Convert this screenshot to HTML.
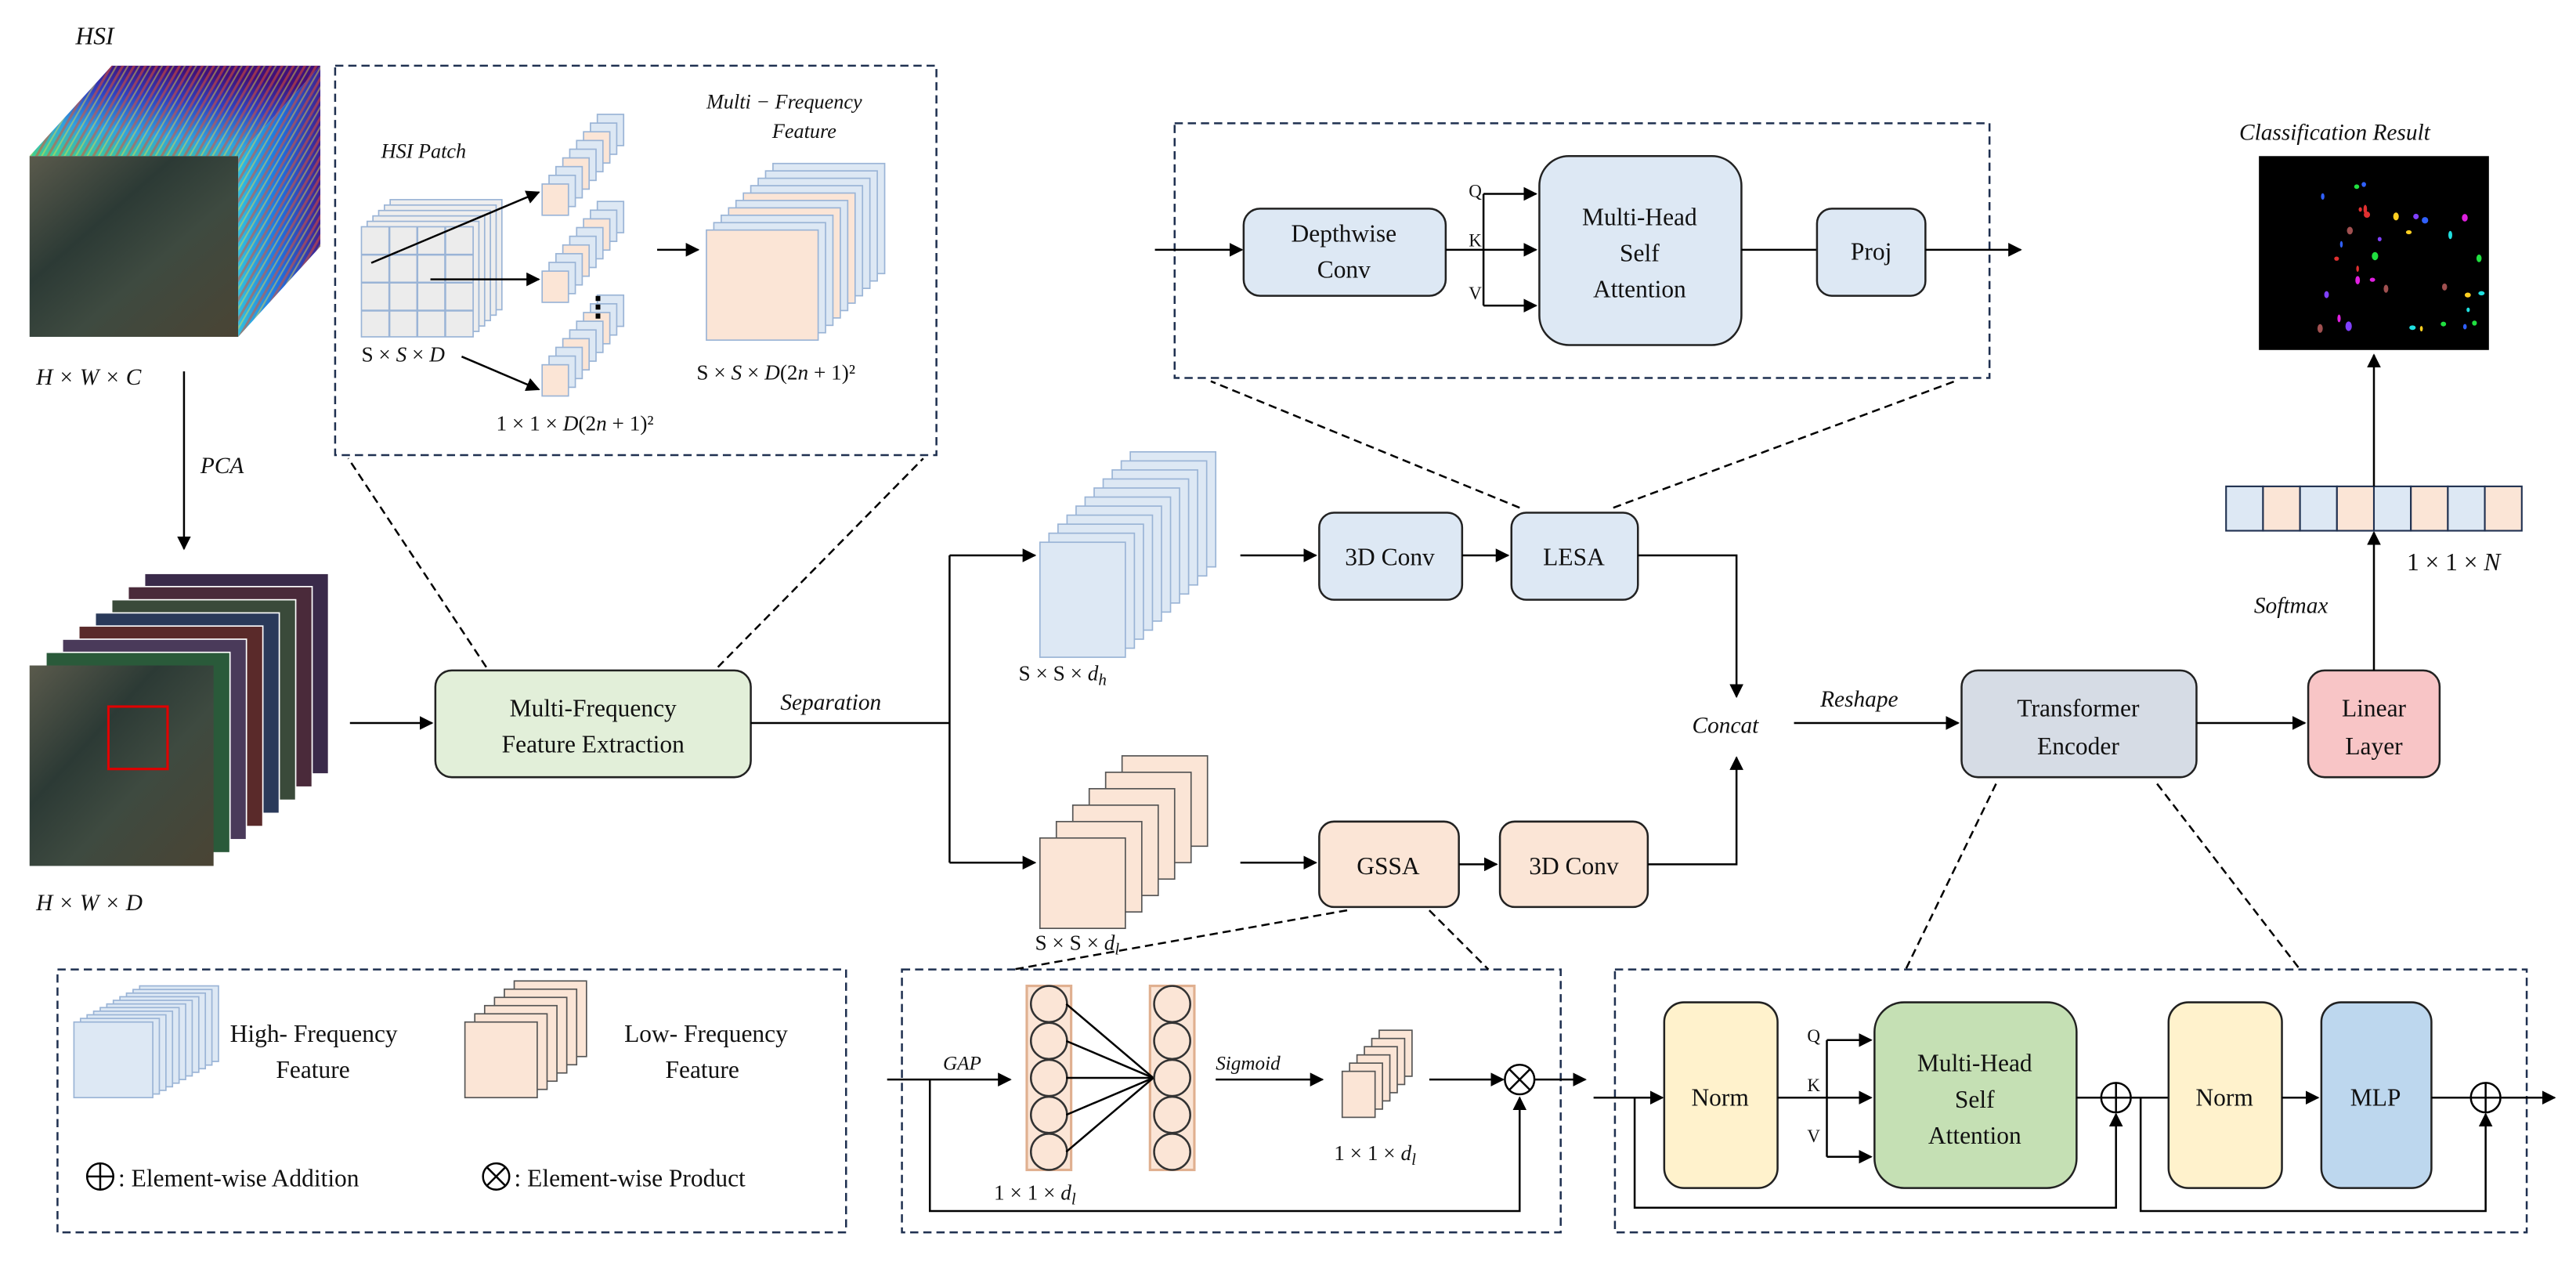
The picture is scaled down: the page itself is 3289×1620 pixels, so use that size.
<!DOCTYPE html>
<html><head><meta charset="utf-8"><style>
html,body{margin:0;padding:0;background:#fff;}
svg{display:block;}
svg text{font-family:"Liberation Serif","DejaVu Serif",serif !important;fill:#111;}
.it{font-style:italic;}
</style></head><body>
<svg id="s" width="3289" height="1620" viewBox="0 0 1568 772.3" preserveAspectRatio="none" xmlns="http://www.w3.org/2000/svg">
<defs>
<marker id="a" viewBox="0 0 10 10" refX="9" refY="5" markerWidth="7" markerHeight="7" orient="auto-start-reverse"><path d="M0,0L10,5L0,10z" fill="#000"/></marker>
<linearGradient id="sat" x1="0" y1="0" x2="1" y2="1"><stop offset="0" stop-color="#5a5a4c"/><stop offset=".35" stop-color="#2c3a35"/><stop offset=".6" stop-color="#3e4a40"/><stop offset="1" stop-color="#4a4434"/></linearGradient>
<linearGradient id="topg" x1="0" y1="1" x2="0.4" y2="0"><stop offset="0" stop-color="#40d090"/><stop offset=".35" stop-color="#30a0e0"/><stop offset=".7" stop-color="#3040c0"/><stop offset="1" stop-color="#40107a"/></linearGradient>
<linearGradient id="sideg" x1="0" y1="0" x2="1" y2="0"><stop offset="0" stop-color="#30c0e0"/><stop offset=".5" stop-color="#2070e0"/><stop offset="1" stop-color="#402090"/></linearGradient>
<pattern id="stripe" width="6" height="6" patternUnits="userSpaceOnUse" patternTransform="rotate(30)"><rect width="6" height="6" fill="url(#topg)" opacity="0"/><rect width="1.5" height="6" fill="#e05030" opacity=".55"/><rect x="3" width="1" height="6" fill="#f0e040" opacity=".45"/></pattern>
</defs>
<g id="g" stroke="#000" fill="none" stroke-width="1.2">

<!-- HSI cube -->
<polygon points="18,95 145,95 195,40 68,40" fill="url(#topg)" stroke="none"/>
<polygon points="18,95 145,95 195,40 68,40" fill="url(#stripe)" stroke="none"/>
<polygon points="145,95 195,40 195,150 145,205" fill="url(#sideg)" stroke="none"/>
<polygon points="145,95 195,40 195,150 145,205" fill="url(#stripe)" stroke="none"/>
<rect x="18" y="95" width="127" height="110" fill="url(#sat)" stroke="none"/>

<line x1="112" y1="226" x2="112" y2="334" marker-end="url(#a)"/>

<g id="bcube"></g>
<rect x="18" y="405" width="112" height="122" fill="url(#sat)" stroke="none"/>
<rect x="66" y="430" width="36" height="38" stroke="#e00000" stroke-width="1.5"/>

<line x1="213" y1="440" x2="263" y2="440" marker-end="url(#a)"/>
<rect x="265" y="408" width="192" height="65" rx="10" fill="#e2efd9" stroke="#222"/>

<rect x="204" y="40" width="366" height="237" stroke="#1f3050" stroke-dasharray="5,3"/>
<line x1="296" y1="406" x2="212" y2="279" stroke-dasharray="5,3"/>
<line x1="437" y1="406" x2="562" y2="279" stroke-dasharray="5,3"/>
<g id="patch"></g>

<polyline points="457,440 578,440"/>
<line x1="578" y1="338" x2="578" y2="525"/>
<line x1="578" y1="338" x2="630" y2="338" marker-end="url(#a)"/>
<line x1="578" y1="525" x2="630" y2="525" marker-end="url(#a)"/>
<g id="stk"></g>

<line x1="755" y1="338" x2="801" y2="338" marker-end="url(#a)"/>
<rect x="803" y="312" width="87" height="53" rx="9" fill="#dde8f4" stroke="#222"/>
<line x1="890" y1="338" x2="918" y2="338" marker-end="url(#a)"/>
<rect x="920" y="312" width="77" height="53" rx="9" fill="#dde8f4" stroke="#222"/>
<polyline points="997,338 1057,338 1057,424" marker-end="url(#a)"/>

<line x1="755" y1="525" x2="801" y2="525" marker-end="url(#a)"/>
<rect x="803" y="500" width="85" height="52" rx="9" fill="#fbe5d6" stroke="#222"/>
<line x1="888" y1="526" x2="911" y2="526" marker-end="url(#a)"/>
<rect x="913" y="500" width="90" height="52" rx="9" fill="#fbe5d6" stroke="#222"/>
<polyline points="1003,526 1057,526 1057,461" marker-end="url(#a)"/>

<line x1="1092" y1="440" x2="1192" y2="440" marker-end="url(#a)"/>
<rect x="1194" y="408" width="143" height="65" rx="10" fill="#d6dce5" stroke="#222"/>
<line x1="1337" y1="440" x2="1403" y2="440" marker-end="url(#a)"/>
<rect x="1405" y="408" width="80" height="65" rx="10" fill="#f8c5c6" stroke="#222"/>
<line x1="1445" y1="408" x2="1445" y2="324" marker-end="url(#a)"/>
<g id="vec"></g>
<line x1="1445" y1="296" x2="1445" y2="216" marker-end="url(#a)"/>
<rect x="1375" y="95" width="140" height="118" fill="#000" stroke="none"/>
<g id="dots" stroke="none"></g>

<rect x="715" y="75" width="496" height="155" stroke="#1f3050" stroke-dasharray="5,3"/>
<line x1="925" y1="309" x2="737" y2="232" stroke-dasharray="5,3"/>
<line x1="982" y1="309" x2="1190" y2="232" stroke-dasharray="5,3"/>
<line x1="703" y1="152" x2="756" y2="152" marker-end="url(#a)"/>
<rect x="757" y="127" width="123" height="53" rx="10" fill="#dde8f4" stroke="#222"/>
<line x1="880" y1="152" x2="935" y2="152" marker-end="url(#a)"/>
<line x1="903" y1="118" x2="903" y2="186"/>
<line x1="903" y1="118" x2="935" y2="118" marker-end="url(#a)"/>
<line x1="903" y1="186" x2="935" y2="186" marker-end="url(#a)"/>
<rect x="937" y="95" width="123" height="115" rx="18" fill="#dde8f4" stroke="#222"/>
<line x1="1060" y1="152" x2="1106" y2="152"/>
<rect x="1106" y="127" width="66" height="53" rx="9" fill="#dde8f4" stroke="#222"/>
<line x1="1172" y1="152" x2="1230" y2="152" marker-end="url(#a)"/>

<rect x="35" y="590" width="480" height="160" stroke="#1f3050" stroke-dasharray="5,3"/>
<g id="leg"></g>
<circle cx="61" cy="716" r="8"/><line x1="53" y1="716" x2="69" y2="716"/><line x1="61" y1="708" x2="61" y2="724"/>
<circle cx="302" cy="716" r="8"/><line x1="296" y1="710" x2="308" y2="722"/><line x1="308" y1="710" x2="296" y2="722"/>

<rect x="549" y="590" width="401" height="160" stroke="#1f3050" stroke-dasharray="5,3"/>
<line x1="820" y1="554" x2="617" y2="590" stroke-dasharray="5,3"/>
<line x1="870" y1="554" x2="906" y2="590" stroke-dasharray="5,3"/>
<line x1="540" y1="657" x2="615" y2="657" marker-end="url(#a)"/>
<polyline points="566,657 566,737 925,737 925,668" marker-end="url(#a)"/>
<g id="nn"></g>
<line x1="740" y1="657" x2="805" y2="657" marker-end="url(#a)"/>
<line x1="870" y1="657" x2="915" y2="657" marker-end="url(#a)"/>
<circle cx="925" cy="657" r="9"/><line x1="919" y1="651" x2="931" y2="663"/><line x1="931" y1="651" x2="919" y2="663"/>
<line x1="934" y1="657" x2="965" y2="657" marker-end="url(#a)"/>

<rect x="983" y="590" width="555" height="160" stroke="#1f3050" stroke-dasharray="5,3"/>
<line x1="1215" y1="477" x2="1160" y2="590" stroke-dasharray="5,3"/>
<line x1="1313" y1="477" x2="1400" y2="590" stroke-dasharray="5,3"/>
<line x1="970" y1="668" x2="1012" y2="668" marker-end="url(#a)"/>
<rect x="1013" y="610" width="69" height="113" rx="12" fill="#fff2cc" stroke="#222"/>
<line x1="1082" y1="668" x2="1139" y2="668" marker-end="url(#a)"/>
<line x1="1112" y1="633" x2="1112" y2="704"/>
<line x1="1112" y1="633" x2="1139" y2="633" marker-end="url(#a)"/>
<line x1="1112" y1="704" x2="1139" y2="704" marker-end="url(#a)"/>
<rect x="1141" y="610" width="123" height="113" rx="18" fill="#c5e0b4" stroke="#222"/>
<line x1="1264" y1="668" x2="1279" y2="668"/>
<circle cx="1288" cy="668" r="9"/><line x1="1279" y1="668" x2="1297" y2="668"/><line x1="1288" y1="659" x2="1288" y2="677"/>
<polyline points="995,668 995,735 1288,735 1288,678" marker-end="url(#a)"/>
<line x1="1297" y1="668" x2="1320" y2="668"/>
<rect x="1320" y="610" width="69" height="113" rx="12" fill="#fff2cc" stroke="#222"/>
<line x1="1389" y1="668" x2="1411" y2="668" marker-end="url(#a)"/>
<rect x="1413" y="610" width="67" height="113" rx="12" fill="#bdd7ee" stroke="#222"/>
<line x1="1480" y1="668" x2="1504" y2="668"/>
<circle cx="1513" cy="668" r="9"/><line x1="1504" y1="668" x2="1522" y2="668"/><line x1="1513" y1="659" x2="1513" y2="677"/>
<polyline points="1303,668 1303,737 1513,737 1513,678" marker-end="url(#a)"/>
<line x1="1522" y1="668" x2="1555" y2="668" marker-end="url(#a)"/>
</g>

<g font-size="14" font-family="Liberation Serif, DejaVu Serif, serif">
<text x="46" y="27" class="it" font-size="15">HSI</text>
<text x="22" y="234" class="it">H × W × C</text>
<text x="122" y="288" class="it">PCA</text>
<text x="22" y="554" class="it">H × W × D</text>
<text x="232" y="96" class="it" font-size="12.5">HSI Patch</text>
<text x="430" y="66" class="it" font-size="12.5">Multi − Frequency</text>
<text x="470" y="84" class="it" font-size="12.5">Feature</text>
<text x="220" y="220" font-size="13">S × <tspan class="it">S</tspan> × <tspan class="it">D</tspan></text>
<text x="424" y="231" font-size="13">S × <tspan class="it">S</tspan> × <tspan class="it">D</tspan>(2<tspan class="it">n</tspan> + 1)²</text>
<text x="302" y="262" font-size="13">1 × 1 × <tspan class="it">D</tspan>(2<tspan class="it">n</tspan> + 1)²</text>
<text x="361" y="436" text-anchor="middle" font-size="15">Multi-Frequency</text>
<text x="361" y="458" text-anchor="middle" font-size="15">Feature Extraction</text>
<text x="475" y="432" class="it">Separation</text>
<text x="620" y="414" font-size="13">S × S × <tspan class="it">d</tspan><tspan class="it" font-size="10" dy="3">h</tspan></text>
<text x="630" y="578" font-size="13">S × S × <tspan class="it">d</tspan><tspan class="it" font-size="10" dy="3">l</tspan></text>
<text x="846" y="344" text-anchor="middle" font-size="15">3D Conv</text>
<text x="958" y="344" text-anchor="middle" font-size="15">LESA</text>
<text x="845" y="532" text-anchor="middle" font-size="15">GSSA</text>
<text x="958" y="532" text-anchor="middle" font-size="15">3D Conv</text>
<text x="1030" y="446" class="it">Concat</text>
<text x="1108" y="430" class="it">Reshape</text>
<text x="1265" y="436" text-anchor="middle" font-size="15">Transformer</text>
<text x="1265" y="459" text-anchor="middle" font-size="15">Encoder</text>
<text x="1445" y="436" text-anchor="middle" font-size="15">Linear</text>
<text x="1445" y="459" text-anchor="middle" font-size="15">Layer</text>
<text x="1372" y="373" class="it">Softmax</text>
<text x="1465" y="347" font-size="15">1 × 1 × <tspan class="it">N</tspan></text>
<text x="1363" y="85" class="it">Classification Result</text>
<text x="818" y="147" text-anchor="middle" font-size="15">Depthwise</text>
<text x="818" y="169" text-anchor="middle" font-size="15">Conv</text>
<text x="894" y="120" font-size="11">Q</text><text x="894" y="150" font-size="11">K</text><text x="894" y="182" font-size="11">V</text>
<text x="998" y="137" text-anchor="middle" font-size="15">Multi-Head</text>
<text x="998" y="159" text-anchor="middle" font-size="15">Self</text>
<text x="998" y="181" text-anchor="middle" font-size="15">Attention</text>
<text x="1139" y="158" text-anchor="middle" font-size="15">Proj</text>
<text x="140" y="634" font-size="15">High- Frequency</text>
<text x="168" y="656" font-size="15">Feature</text>
<text x="380" y="634" font-size="15">Low- Frequency</text>
<text x="405" y="656" font-size="15">Feature</text>
<text x="72" y="722" font-size="15">: Element-wise Addition</text>
<text x="313" y="722" font-size="15">: Element-wise Product</text>
<text x="574" y="651" class="it" font-size="12">GAP</text>
<text x="740" y="651" class="it" font-size="12">Sigmoid</text>
<text x="812" y="706" font-size="13">1 × 1 × <tspan class="it">d</tspan><tspan class="it" font-size="10" dy="3">l</tspan></text>
<text x="605" y="730" font-size="13">1 × 1 × <tspan class="it">d</tspan><tspan class="it" font-size="10" dy="3">l</tspan></text>
<text x="1047" y="673" text-anchor="middle" font-size="15">Norm</text>
<text x="1100" y="634" font-size="11">Q</text><text x="1100" y="664" font-size="11">K</text><text x="1100" y="695" font-size="11">V</text>
<text x="1202" y="652" text-anchor="middle" font-size="15">Multi-Head</text>
<text x="1202" y="674" text-anchor="middle" font-size="15">Self</text>
<text x="1202" y="696" text-anchor="middle" font-size="15">Attention</text>
<text x="1354" y="673" text-anchor="middle" font-size="15">Norm</text>
<text x="1446" y="673" text-anchor="middle" font-size="15">MLP</text>
</g>
</svg>
<script>
var NS="http://www.w3.org/2000/svg";
function R(p,x,y,w,h,f,s,sw){var r=document.createElementNS(NS,"rect");r.setAttribute("x",x);r.setAttribute("y",y);r.setAttribute("width",w);r.setAttribute("height",h);r.setAttribute("fill",f);r.setAttribute("stroke",s||"#9ab4d6");r.setAttribute("stroke-width",sw||0.8);document.getElementById(p).appendChild(r);return r;}
function L(p,a,b,c,d,m){var l=document.createElementNS(NS,"line");l.setAttribute("x1",a);l.setAttribute("y1",b);l.setAttribute("x2",c);l.setAttribute("y2",d);l.setAttribute("stroke","#000");l.setAttribute("stroke-width",1.2);if(m)l.setAttribute("marker-end","url(#a)");document.getElementById(p).appendChild(l);return l;}
var B="#dde8f4",P="#fbe5d6";
var bc=["#3a2a4a","#2a5a3a","#4a3a5a","#5a2a2a","#2a3a5a","#3a4a3a","#4a2a3a"];
for(var i=7;i>=1;i--){R("bcube",18+i*10,405-i*8,112,122,bc[i%bc.length],"#fff",0.8);}
for(var i=5;i>=1;i--)R("patch",220+i*3.5,138-i*3.3,68,67,"#eeeeee","#9ab4d6");
R("patch",220,138,68,67,"#ececec","#9ab4d6");
for(var k=1;k<4;k++){L("patch",220+k*17,138,220+k*17,205).setAttribute("stroke","#9ab4d6");L("patch",220,138+k*17,288,138+k*17).setAttribute("stroke","#9ab4d6");}
L("patch",226,160,328,117,1);L("patch",262,170,328,170,1);L("patch",281,217,328,237,1);
[[330,112],[330,165],[330,222]].forEach(function(c){for(var i=8;i>=0;i--)R("patch",c[0]+i*4.2,c[1]-i*5.3,16,19,(i%3==0)?P:B);});
var t=document.createElementNS(NS,"text");t.setAttribute("x",356);t.setAttribute("y",192);t.textContent="⋮";t.setAttribute("font-size","16");t.setAttribute("fill","#000");document.getElementById("patch").appendChild(t);
L("patch",400,152,425,152,1);
for(var i=9;i>=0;i--)R("patch",430+i*4.5,140-i*4.5,68,67,(i==0||i==5||i==3)?P:B);
for(var i=10;i>=0;i--)R("stk",633+i*5.5,330-i*5.5,52,70,B);
for(var i=5;i>=0;i--)R("stk",633+i*10,510-i*10,52,55,P,"#555");
for(var i=0;i<8;i++)R("vec",1355+i*22.5,296,22.5,27,i%2?P:B,"#1f3050",1);
var cl=["#e03030","#3060ff","#20e040","#e020e0","#ffd020","#a05050","#20e0e0","#8040ff"];
var seed=3;function rnd(){seed=(seed*9301+49297)%233280;return seed/233280;}
for(var i=0;i<35;i++){var c=document.createElementNS(NS,"ellipse");c.setAttribute("cx",1405+rnd()*108);c.setAttribute("cy",110+rnd()*95);c.setAttribute("rx",0.8+rnd()*1.2);c.setAttribute("ry",1.2+rnd()*1.8);c.setAttribute("fill",cl[i%cl.length]);document.getElementById("dots").appendChild(c);}
for(var i=10;i>=0;i--)R("leg",45+i*4,622-i*2.2,48,46,B);
for(var i=5;i>=0;i--)R("leg",283+i*6,622-i*5,44,46,P,"#555");
R("nn",625,600,27,112,P,"#e0b090",1.5);R("nn",700,600,27,112,P,"#e0b090",1.5);
for(var j=0;j<5;j++){[638.5,713.5].forEach(function(cx){var e=document.createElementNS(NS,"ellipse");e.setAttribute("cx",cx);e.setAttribute("cy",611+j*22.5);e.setAttribute("rx",11);e.setAttribute("ry",11);e.setAttribute("fill",P);e.setAttribute("stroke","#333");document.getElementById("nn").appendChild(e);});
L("nn",649,611+j*22.5,702,656);}
for(var i=5;i>=0;i--)R("nn",817+i*4.5,652-i*5,20,28,P,"#555");
</script>
</body></html>
